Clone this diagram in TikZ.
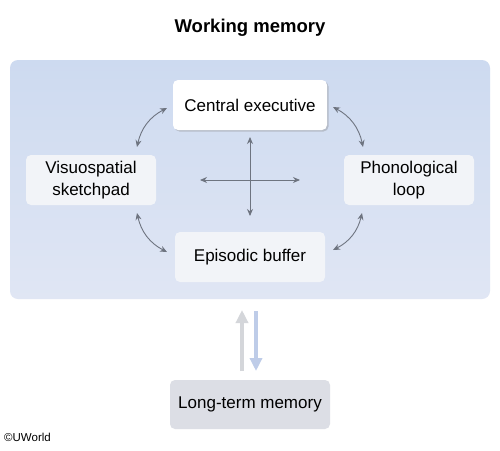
\documentclass[tikz,border=0pt]{standalone}
\usepackage{fontspec}
\setmainfont{Liberation Sans}
\usetikzlibrary{arrows.meta,shadows}
\definecolor{panelTop}{RGB}{205,218,240}
\definecolor{panelBot}{RGB}{224,230,244}
\definecolor{boxFill}{RGB}{242,244,248}
\definecolor{ltmFill}{RGB}{220,222,229}
\definecolor{arrGray}{RGB}{110,116,128}
\definecolor{upGray}{RGB}{212,214,218}
\definecolor{downBlue}{RGB}{190,204,232}
\begin{document}
\begin{tikzpicture}[x=1pt,y=-1pt,
  comp/.style={rounded corners=5pt, minimum width=130pt, minimum height=50pt, align=center, font=\fontsize{17}{21.5}\selectfont, fill=boxFill},
  dbl/.style={arrGray, line width=0.9pt, {Stealth[length=7pt,width=6pt]}-{Stealth[length=7pt,width=6pt]}},
  one/.style={arrGray, line width=0.9pt, -{Stealth[length=7pt,width=6pt]}}]
\useasboundingbox (0,0) rectangle (500,450);
\fill[white] (0,0) rectangle (500,450);
\node[font=\fontsize{18.5}{22}\selectfont\bfseries] (title) at (250,28) {Working memory};
\shade[rounded corners=8pt, top color=panelTop, bottom color=panelBot] (10,60) rectangle (490,299);
\node[comp, fill=white, minimum width=154pt, drop shadow={shadow xshift=1.5pt, shadow yshift=-1.5pt, opacity=0.35}] (ce) at (250,105) {Central executive};
\node[comp] (vs) at (91,180) {Visuospatial\\sketchpad};
\node[comp] (pl) at (409,180) {Phonological\\loop};
\node[comp, minimum width=150pt] (eb) at (250,257) {Episodic buffer};
\node[comp, fill=ltmFill, minimum width=160pt, minimum height=49pt] (ltm) at (250,404.5) {Long-term memory};
\node[anchor=west, font=\fontsize{11.5}{13}\selectfont, inner sep=0pt] (cr) at (4,437) {©UWorld};
% cross
\coordinate (vt) at (250,137);
\coordinate (vb) at (250,216);
\coordinate (c) at (250,180);
\coordinate (hl) at (200,180);
\coordinate (hr) at (300,180);
\draw[dbl] (vt) -- (vb);
\draw[one] (c) -- (hl);
\draw[one] (c) -- (hr);
% curved
\coordinate (a1) at (167,108);
\coordinate (a2) at (137,147);
\coordinate (b1) at (137,213);
\coordinate (b2) at (167,252);
\coordinate (c1) at (333,107);
\coordinate (c2) at (363,147);
\coordinate (d1) at (362,213);
\coordinate (d2) at (333,250);
\draw[dbl] (a1) to[bend right=25] (a2);
\draw[dbl] (b1) to[bend right=25] (b2);
\draw[dbl] (c1) to[bend left=25] (c2);
\draw[dbl] (d1) to[bend left=25] (d2);
% ltm arrows
\coordinate (u1) at (242,371);
\coordinate (u2) at (242,310);
\coordinate (w1) at (256,311);
\coordinate (w2) at (256,371);
\draw[upGray, line width=4pt, -{Triangle[length=13pt,width=12pt]}] (u1) -- (u2);
\draw[downBlue, line width=4pt, -{Triangle[length=13pt,width=12pt]}] (w1) -- (w2);
\end{tikzpicture}
\end{document}
